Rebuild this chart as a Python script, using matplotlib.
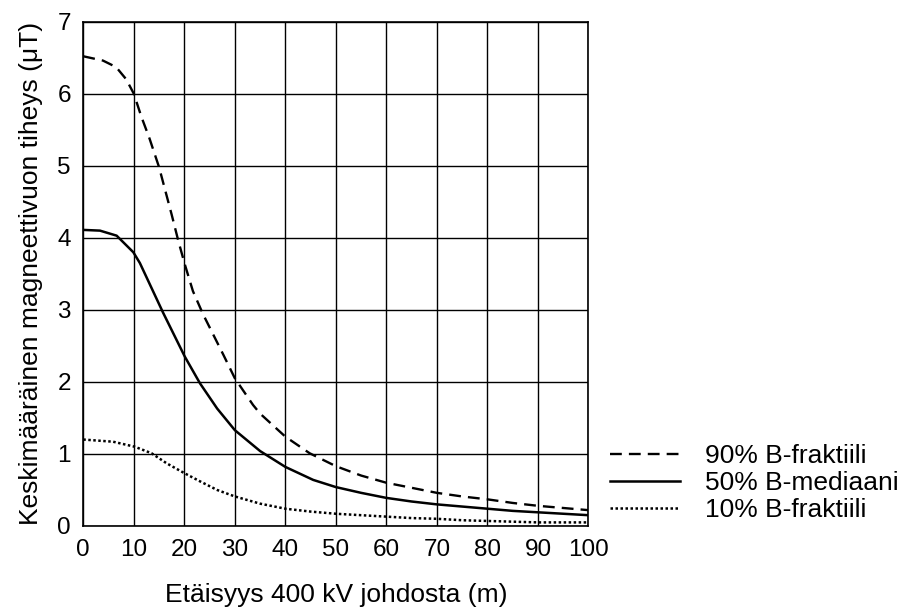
from matplotlib import pyplot as plt
import numpy as np

plt.rcParams['font.family'] = ['Liberation Sans', 'DejaVu Sans']

# distance from the line (m) and field (uT)
dist_90 = [0, 3.9, 6.5, 8.5, 10, 11.5, 13.1, 15, 17.5, 18.8, 20.1, 21.7, 23.7, 27.7,
           30, 33.6, 35, 38.9, 40, 44.8, 50, 55, 60, 65, 70, 75, 80, 85, 90, 95, 100]
b_90 = [6.52, 6.46, 6.37, 6.20, 6.00, 5.68, 5.38, 4.98, 4.32, 3.96, 3.63, 3.26, 2.94, 2.38,
        2.05, 1.68, 1.56, 1.31, 1.24, 1.01, 0.83, 0.70, 0.60, 0.53, 0.46, 0.41, 0.37, 0.32, 0.28, 0.25, 0.22]

dist_50 = [0, 3.3, 6.6, 9.9, 11.2, 12.8, 15.8, 20.1, 23.1, 26.5, 30, 35, 40,
           45.5, 50, 55, 60, 65, 70, 75, 80, 85, 90, 95, 100]
b_50 = [4.11, 4.10, 4.03, 3.80, 3.65, 3.41, 2.96, 2.35, 1.98, 1.63, 1.33, 1.04, 0.82,
        0.64, 0.54, 0.46, 0.39, 0.34, 0.30, 0.27, 0.24, 0.21, 0.19, 0.17, 0.15]

dist_10 = [0, 5.9, 10.2, 13.5, 16.5, 20.1, 23.1, 26.5, 30, 35, 40, 45, 50, 55,
           60, 65, 70, 75, 80, 85, 90, 95, 100]
b_10 = [1.20, 1.17, 1.10, 1.01, 0.87, 0.73, 0.62, 0.50, 0.41, 0.31, 0.24, 0.20, 0.17, 0.15,
        0.13, 0.11, 0.10, 0.08, 0.07, 0.06, 0.05, 0.05, 0.05]

fig = plt.figure(figsize=(9.02, 6.10), dpi=100)
ax = fig.add_axes([83.3 / 902, (610 - 526) / 610, (588.5 - 83.3) / 902, (526 - 21.7) / 610])

ax.plot(dist_90, b_90, color='black', lw=1.7, linestyle=(0, (5, 3)), label='90% B-fraktiili')
ax.plot(dist_50, b_50, color='black', lw=1.8, label='50% B-mediaani')
ax.plot(dist_10, b_10, color='black', lw=1.8, linestyle=(0, (1, 1)), label='10% B-fraktiili')

ax.set_xlim(0, 100)
ax.set_ylim(0, 7)
ax.set_xticks(np.arange(0, 101, 10))
ax.set_yticks(np.arange(0, 8, 1))
ax.grid(True, color='black', lw=1.0)
ax.set_axisbelow(True)
ax.tick_params(length=0, labelsize=17.5, pad=9)
for s in ax.spines.values():
    s.set_color('black')
    s.set_linewidth(1.2)

ax.set_xlabel('Etäisyys 400 kV johdosta (m)', fontsize=19, labelpad=16)
ax.set_ylabel('Keskimääräinen magneettivuon tiheys (μT)', fontsize=19, labelpad=10)

fig.legend(loc='center left', bbox_to_anchor=(610 / 902, 1 - 483 / 610), frameon=False,
           fontsize=19, handlelength=2.65, handletextpad=0.95, labelspacing=0.12,
           borderaxespad=0, borderpad=0)

plt.savefig('out.png', dpi=100)
